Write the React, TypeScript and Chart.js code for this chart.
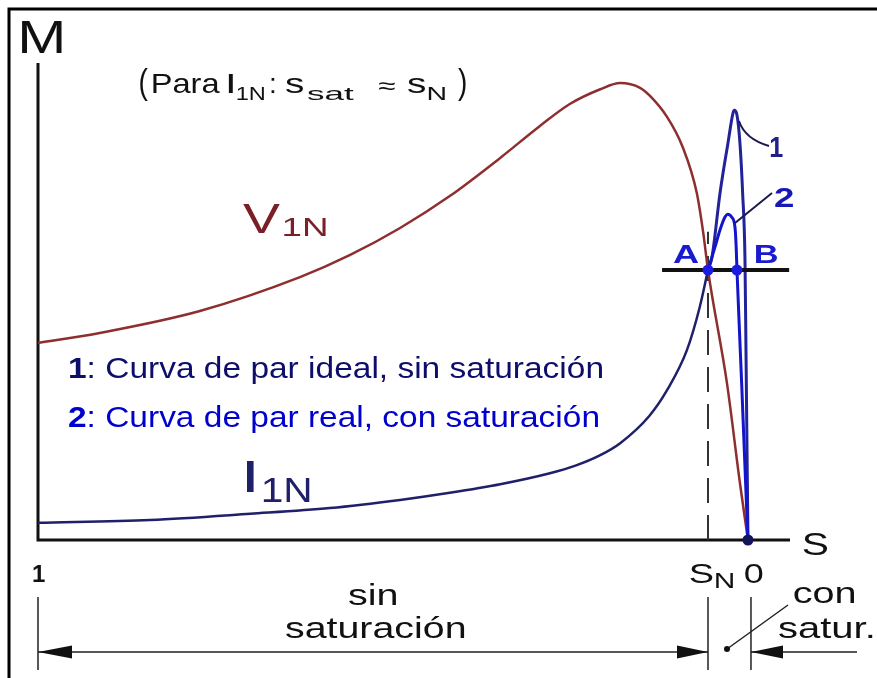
import React, { useEffect, useRef } from "react";
import { Chart, registerables } from "chart.js";

Chart.register(...registerables);

// Slip s (1 = standstill, 0 = synchronism) and torque as % of the M-axis height
const slipV1N = [1.0, 0.913, 0.772, 0.631, 0.561, 0.49, 0.42, 0.349, 0.293, 0.251, 0.208, 0.18, 0.152, 0.138, 0.114, 0.092, 0.072, 0.063, 0.0563, 0.0296, 0.0113, 0];
const torqueV1N = [41.3, 43.4, 48.0, 55.1, 59.7, 65.4, 72.1, 80.1, 86.8, 91.4, 94.5, 95.8, 94.8, 93.1, 88.7, 82.4, 72.7, 64.4, 56.6, 32.9, 11.9, 0];

const slipI1N = [1.0, 0.842, 0.701, 0.589, 0.49, 0.42, 0.349, 0.279, 0.243, 0.208, 0.18, 0.139, 0.114, 0.086, 0.068, 0.0563];
const torqueI1N = [3.6, 4.2, 5.5, 6.7, 8.4, 9.9, 11.7, 14.0, 15.6, 17.8, 20.3, 26.0, 31.4, 39.8, 48.8, 56.6];

// Curve 1: ideal torque, no saturation
const slipIdeal = [0.0563, 0.0507, 0.0394, 0.0282, 0.0211, 0.0193, 0.0155, 0.0113, 0.0075, 0.0042, 0.0028, 0];
const torqueIdeal = [56.6, 59.3, 72.7, 83.2, 89.5, 90.1, 89.1, 83.2, 72.7, 58.7, 39.8, 0];

// Curve 2: real torque, with saturation
const slipReal = [0.0563, 0.0465, 0.0394, 0.0324, 0.0286, 0.023, 0.0183, 0.0166, 0.0155, 0.0089, 0.0018, 0];
const torqueReal = [56.6, 61.4, 65.0, 67.7, 68.3, 67.7, 65.6, 61.4, 56.6, 32.9, 6.3, 0];

const slipNominal = 0.0563; // s_N (point A)
const slipB = 0.0155; // point B
const loadTorque = 56.6;
const loadLineSlips = [0.121, -0.058];
const dashTopTorque = 64.6;
const slipAxisEnd = -0.0592;
const torqueAxisTop = 100;

const xTickLabels = ["1", "0"];
const title = { open: "(", para: "Para", I: "I", sub1N: "1N", colon: ":", s: "s", sat: "sat", approx: "≈", N: "N", close: ")" };
const legendLines = [
  { num: "1", text: ": Curva de par ideal, sin saturación", color: "#0d0d6b" },
  { num: "2", text: ": Curva de par real, con saturación", color: "#0000cc" },
];

const FONT = "'Liberation Sans', Arial, Helvetica, sans-serif";
const RED = "#8e2f2f";
const NAVY = "#20206a";
const IDEAL = "#22229a";
const REAL = "#1414cc";

const pts = (xs: number[], ys: number[]) => xs.map((x, i) => ({ x, y: ys[i] }));

// Draw text so that its ink starts at `left`, optionally stretched to a given ink width
function ink(
  ctx: CanvasRenderingContext2D,
  text: string,
  left: number,
  baseline: number,
  size: number,
  color: string,
  inkWidth?: number,
  bold = false
) {
  ctx.save();
  ctx.font = `${bold ? "bold " : ""}${size}px ${FONT}`;
  ctx.fillStyle = color;
  ctx.textAlign = "left";
  ctx.textBaseline = "alphabetic";
  const m = ctx.measureText(text);
  const w = m.actualBoundingBoxLeft + m.actualBoundingBoxRight;
  const sx = inkWidth ? inkWidth / w : 1;
  ctx.translate(left, baseline);
  ctx.scale(sx, 1);
  ctx.fillText(text, m.actualBoundingBoxLeft, 0);
  ctx.restore();
}

function arrowHead(ctx: CanvasRenderingContext2D, tipX: number, y: number, dir: number, len: number, half: number) {
  ctx.beginPath();
  ctx.moveTo(tipX, y);
  ctx.lineTo(tipX - dir * len, y - half);
  ctx.lineTo(tipX - dir * len, y + half);
  ctx.closePath();
  ctx.fill();
}

const decorPlugin = {
  id: "torqueDiagram",
  beforeDatasetsDraw(chart: any) {
    const ctx: CanvasRenderingContext2D = chart.ctx;
    const xs = chart.scales.x;
    const ys = chart.scales.y;
    const x1 = xs.getPixelForValue(1);
    const y0 = ys.getPixelForValue(0);
    ctx.save();
    // outer frame (left and top edges)
    ctx.strokeStyle = "#000";
    ctx.lineWidth = 3;
    ctx.beginPath();
    ctx.moveTo(9, chart.height);
    ctx.lineTo(9, 9);
    ctx.lineTo(chart.width, 9);
    ctx.stroke();
    // axes
    ctx.lineWidth = 3;
    ctx.strokeStyle = "#111";
    ctx.beginPath();
    ctx.moveTo(x1, ys.getPixelForValue(torqueAxisTop));
    ctx.lineTo(x1, y0);
    ctx.lineTo(xs.getPixelForValue(slipAxisEnd), y0);
    ctx.stroke();
    ctx.restore();
  },
  afterDatasetsDraw(chart: any) {
    const ctx: CanvasRenderingContext2D = chart.ctx;
    const xs = chart.scales.x;
    const ys = chart.scales.y;
    const px1 = xs.getPixelForValue(1);
    const pxN = xs.getPixelForValue(slipNominal);
    const px0 = xs.getPixelForValue(0);

    // axis names
    ink(ctx, "M", 21, 53, 46, "#111", 41);
    ink(ctx, "S", 803, 555, 31, "#111", 25);

    // title
    ink(ctx, title.open, 140, 94, 35, "#111", 8);
    ink(ctx, title.para, 153, 93, 28, "#111", 67);
    ink(ctx, title.I, 228, 93, 28, "#111", 6);
    ink(ctx, title.sub1N, 237, 100, 19, "#111", 28);
    ink(ctx, title.colon, 271, 93, 28, "#111", 4);
    ink(ctx, title.s, 285, 93, 28, "#111", 18);
    ink(ctx, title.sat, 307, 100, 19, "#111", 48);
    ink(ctx, title.approx, 378, 94, 24, "#111", 17);
    ink(ctx, title.s, 407, 93, 28, "#111", 18);
    ink(ctx, title.N, 428, 100, 19, "#111", 18);
    ink(ctx, title.close, 458, 94, 35, "#111", 8);

    // curve names
    ink(ctx, "V", 243, 233, 42, "#7a1e28", 37);
    ink(ctx, "1N", 283, 236, 25, "#7a1e28", 44);
    ink(ctx, "I", 247, 492, 44, NAVY, 8);
    ink(ctx, "1N", 263, 502, 35, NAVY, 47);

    // legend lines
    legendLines.forEach((l, i) => {
      const baseline = i === 0 ? 378 : 427;
      const target = i === 0 ? 536 : 532;
      ctx.save();
      ctx.font = `bold 29px ${FONT}`;
      const wNum = ctx.measureText(l.num).width;
      ctx.font = `29px ${FONT}`;
      const wText = ctx.measureText(l.text).width;
      const sx = target / (wNum + wText);
      ctx.translate(68, baseline);
      ctx.scale(sx, 1);
      ctx.fillStyle = l.color;
      ctx.font = `bold 29px ${FONT}`;
      ctx.fillText(l.num, 0, 0);
      ctx.font = `29px ${FONT}`;
      ctx.fillText(l.text, wNum, 0);
      ctx.restore();
    });

    // operating points labels and curve numbers
    const yLoad = ys.getPixelForValue(loadTorque);
    ink(ctx, "A", 673, yLoad - 7, 25, "#1a1ad0", 26, true);
    ink(ctx, "B", 755, yLoad - 7, 25, "#1a1ad0", 22, true);
    ink(ctx, "1", 770, 157, 29, "#20208a", 13, true);
    ink(ctx, "2", 774, 207, 27, "#1818b8", 19, true);

    // leader lines to curves 1 and 2
    ctx.save();
    ctx.strokeStyle = "#1a1a50";
    ctx.lineWidth = 2;
    ctx.beginPath();
    ctx.moveTo(739, 121);
    ctx.quadraticCurveTo(745, 139, 769, 146);
    ctx.stroke();
    ctx.beginPath();
    ctx.moveTo(735, 223);
    ctx.lineTo(772, 193);
    ctx.stroke();
    ctx.restore();

    // tick labels on the slip axis
    ink(ctx, xTickLabels[0], 33, 582, 24, "#111", 12, true);
    ink(ctx, "S", 690, 583, 28, "#111", 23);
    ink(ctx, "N", 715, 588, 22, "#111", 19);
    ink(ctx, xTickLabels[1], px0 - 3, 583, 28, "#111", 18);

    // range annotation below the axis
    ctx.save();
    ctx.strokeStyle = "#222";
    ctx.fillStyle = "#111";
    ctx.lineWidth = 1.5;
    const yDim = 652;
    const px0b = px0 + 3;
    ctx.beginPath();
    [px1, pxN, px0b].forEach((x) => {
      ctx.moveTo(x, 597);
      ctx.lineTo(x, 670);
    });
    ctx.moveTo(px1, yDim);
    ctx.lineTo(pxN, yDim);
    ctx.moveTo(px0b, yDim);
    ctx.lineTo(857, yDim);
    ctx.moveTo(727, 649);
    ctx.lineTo(788, 605);
    ctx.stroke();
    arrowHead(ctx, px1, yDim, -1, 34, 6.5);
    arrowHead(ctx, pxN, yDim, 1, 31, 6.5);
    arrowHead(ctx, px0b, yDim, -1, 32, 6.5);
    ctx.beginPath();
    ctx.arc(727, 649, 3, 0, Math.PI * 2);
    ctx.fill();
    ctx.restore();

    ink(ctx, "sin", 348, 605, 29, "#111", 49);
    ink(ctx, "saturación", 285, 638, 29, "#111", 180);
    ink(ctx, "con", 794, 603, 29, "#111", 61);
    ink(ctx, "satur.", 778, 638, 29, "#111", 95);
  },
};

export default function App() {
  const ref = useRef<HTMLCanvasElement | null>(null);

  useEffect(() => {
    if (!ref.current) return;
    const line = (data: any[], color: string, width: number, extra: any = {}) => ({
      data,
      showLine: true,
      borderColor: color,
      backgroundColor: color,
      borderWidth: width,
      pointRadius: 0,
      cubicInterpolationMode: "monotone",
      clip: false,
      ...extra,
    });
    const chart = new Chart(ref.current, {
      type: "scatter",
      data: {
        datasets: [
          {
            data: [
              { x: slipNominal, y: loadTorque },
              { x: slipB, y: loadTorque },
              { x: 0, y: 0 },
            ],
            showLine: false,
            pointRadius: 5.5,
            pointBorderWidth: 0,
            backgroundColor: ["#1a1ae0", "#1a1ae0", "#14145a"],
            borderColor: ["#1a1ae0", "#1a1ae0", "#14145a"],
            clip: false,
          },
          line(loadLineSlips.map((x) => ({ x, y: loadTorque })), "#111", 4, { cubicInterpolationMode: "default" }),
          line(pts(slipReal, torqueReal), REAL, 3),
          line(pts(slipIdeal, torqueIdeal), IDEAL, 3),
          line(pts(slipI1N, torqueI1N), NAVY, 2.5),
          line(pts(slipV1N, torqueV1N), RED, 2.5),
          line(
            [
              { x: slipNominal, y: 0 },
              { x: slipNominal, y: dashTopTorque },
            ],
            "#333",
            2,
            { borderDash: [25, 12], cubicInterpolationMode: "default" }
          ),
        ] as any,
      },
      options: {
        animation: false,
        responsive: false,
        devicePixelRatio: 1,
        events: [],
        layout: { padding: { left: 38, right: 87, top: 63, bottom: 138 } },
        scales: {
          x: { type: "linear", min: slipAxisEnd, max: 1, reverse: true, display: false },
          y: { type: "linear", min: 0, max: torqueAxisTop, display: false },
        },
        plugins: { legend: { display: false }, tooltip: { enabled: false } },
      } as any,
      plugins: [decorPlugin],
    });
    return () => chart.destroy();
  }, []);

  return (
    <div style={{ position: "fixed", left: 0, top: 0, width: 877, height: 678, background: "#fff" }}>
      <canvas ref={ref} width={877} height={678} style={{ display: "block", width: 877, height: 678 }} />
    </div>
  );
}
